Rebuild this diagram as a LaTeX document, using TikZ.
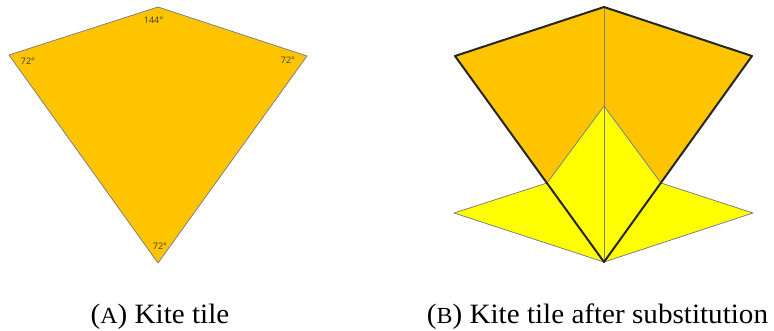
\documentclass[tikz,border=0pt]{standalone}
\usepackage{fontspec}
\setmainfont{Liberation Serif}[FakeStretch=1.04]
\newfontfamily\anglefont{Open Sans}
\definecolor{kiteorange}{RGB}{255,196,0}
\definecolor{dartyellow}{RGB}{255,255,0}
\definecolor{thinline}{RGB}{128,128,128}
\definecolor{angletext}{RGB}{60,60,60}
\begin{document}
\begin{tikzpicture}[x=1pt,y=-1pt,
  thin edge/.style={draw=thinline,line width=0.8pt,line join=round},
  thick edge/.style={draw=black!85,line width=2pt,line join=round},
  angle label/.style={font=\anglefont\fontsize{9}{10}\selectfont,text=angletext,inner sep=0pt},
  caption/.style={font=\fontsize{28}{31}\selectfont,anchor=base,inner sep=0pt}]
\useasboundingbox (0,0) rectangle (774,330);
% ---- (A) kite ----
\coordinate (aT) at (158,7);
\coordinate (aL) at (9,55);
\coordinate (aR) at (307,56);
\coordinate (aB) at (158,263);
\fill[kiteorange] (aT) -- (aL) -- (aB) -- (aR) -- cycle;
\draw[thin edge] (aT) -- (aL) -- (aB) -- (aR) -- cycle;
\node[angle label] (lt) at (153.5,20.5) {144°};
\node[angle label] (ll) at (28,61) {72°};
\node[angle label] (lr) at (288,60.5) {72°};
\node[angle label] (lb) at (160,246) {72°};
% ---- (B) substituted kite ----
\coordinate (bT) at (604,7);
\coordinate (bL) at (455,56);
\coordinate (bR) at (752,56);
\coordinate (bB) at (604,262);
\coordinate (bA) at (604,106);
\coordinate (pL) at (547,183);
\coordinate (pR) at (661,183);
\coordinate (wL) at (454,213);
\coordinate (wR) at (753,213);
\fill[kiteorange] (bT) -- (bL) -- (pL) -- (bA) -- (pR) -- (bR) -- cycle;
\fill[dartyellow] (bA) -- (pL) -- (wL) -- (bB) -- (wR) -- (pR) -- cycle;
\draw[thin edge] (bT) -- (bB);
\draw[thin edge] (pL) -- (bA) -- (pR);
\draw[thin edge] (pL) -- (wL) -- (bB) -- (wR) -- (pR);
\draw[thick edge] (bT) -- (bL) -- (bB) -- (bR) -- cycle;
% ---- captions ----
\node[caption] (capA) at (160,323) {({\fontsize{23}{25}\selectfont A}) Kite tile};
\node[caption] (capB) at (597.5,323) {({\fontsize{23}{25}\selectfont B}) Kite tile after substitution};
\end{tikzpicture}
\end{document}
